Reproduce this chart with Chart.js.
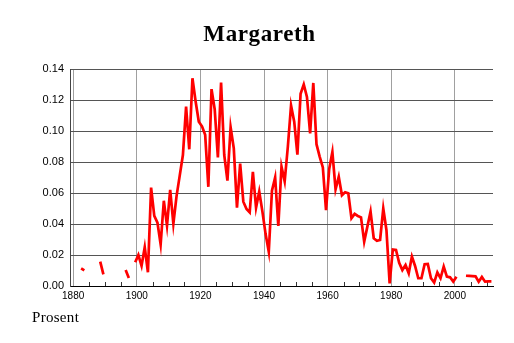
<!DOCTYPE html>
<html lang="no">
<head>
  <meta charset="UTF-8">
  <title>Margareth</title>
  <script src="https://cdn.jsdelivr.net/npm/chart.js"></script>
  <style>
    body { margin: 0; background: #fff; }
    #wrap { position: relative; width: 514px; height: 343px; overflow: hidden; }
    #nameChart { position: absolute; left: 0; top: 0; }
    h1 {
      position: absolute; left: 0; top: 22px; width: 514px; margin: 0;
      padding-left: 5px; box-sizing: border-box; text-align: center;
      font: bold 23px/23px "Liberation Serif", serif; letter-spacing: 0.6px; color: #000;
    }
    .unit { position: absolute; left: 32px; top: 310px; font: 15px/15px "Liberation Serif", serif; letter-spacing: 0.3px; }
  </style>
</head>
<body>
  <div id="wrap">
    <canvas id="nameChart" width="514" height="343"></canvas>
    <h1>Margareth</h1>
    <div class="unit">Prosent</div>
  </div>
  <script>
    // share of girls given the name, per year (null = no data that year)
    const firstYear = 1882;
    const percent = [
      0.0114, 0.0101, null, null, null, null, 0.0157, 0.0075,              // 1882-1889
      null, null, null, null, null, null, 0.0104, 0.0052, null, 0.0153,     // 1890-1899
      0.0200, 0.0130, 0.0250, 0.0089, 0.0635, 0.0452, 0.0408, 0.0268, 0.0550, 0.0390, // 1900-1909
      0.0620, 0.0402, 0.0580, 0.0712, 0.0845, 0.1157, 0.0882, 0.1340, 0.1190, 0.1060, // 1910-1919
      0.1030, 0.0975, 0.0640, 0.1270, 0.1140, 0.0830, 0.1312, 0.0845, 0.0680, 0.1024, // 1920-1929
      0.0888, 0.0505, 0.0790, 0.0544, 0.0497, 0.0475, 0.0737, 0.0505, 0.0610, 0.0480, // 1930-1939
      0.0335, 0.0221, 0.0615, 0.0700, 0.0387, 0.0770, 0.0675, 0.0900, 0.1165, 0.1060, // 1940-1949
      0.0848, 0.1240, 0.1300, 0.1220, 0.0985, 0.1310, 0.0915, 0.0835, 0.0765, 0.0490, // 1950-1959
      0.0755, 0.0865, 0.0624, 0.0705, 0.0585, 0.0604, 0.0598, 0.0437, 0.0465, 0.0452, // 1960-1969
      0.0443, 0.0286, 0.0383, 0.0480, 0.0308, 0.0292, 0.0297, 0.0500, 0.0360, 0.0017, // 1970-1979
      0.0235, 0.0232, 0.0150, 0.0103, 0.0135, 0.0082, 0.0190, 0.0129, 0.0050, 0.0050, // 1980-1989
      0.0140, 0.0142, 0.0050, 0.0022, 0.0088, 0.0050, 0.0125, 0.0060, 0.0056, 0.0028, // 1990-1999
      0.0060, null, null, 0.0066, 0.0065, 0.0064, 0.0062, 0.0028, 0.0058, 0.0028,     // 2000-2009
      0.0030, 0.0030                                                                  // 2010-2011
    ];
    const yearTicks = [1880, 1900, 1920, 1940, 1960, 1980, 2000];
    const percentTicks = [0, 0.02, 0.04, 0.06, 0.08, 0.10, 0.12, 0.14];

    // each yearly value is placed in the middle of its year
    const points = percent.map((v, i) => ({ x: firstYear + i + 0.5, y: v }));

    // short tick marks every five years, drawn up from the x axis
    const minorTicks = {
      id: 'minorTicks',
      beforeDatasetsDraw(chart) {
        const xs = chart.scales.x, area = chart.chartArea, ctx = chart.ctx;
        ctx.save();
        ctx.strokeStyle = '#333';
        ctx.lineWidth = 1;
        for (let yr = 1885; yr < 2012; yr += 5) {
          if (yr % 20 === 0) continue;
          const px = Math.round(xs.getPixelForValue(yr)) + 0.5;
          ctx.beginPath();
          ctx.moveTo(px, area.bottom);
          ctx.lineTo(px, area.bottom - 4);
          ctx.stroke();
        }
        ctx.restore();
      }
    };

    new Chart(document.getElementById('nameChart'), {
      type: 'line',
      data: {
        datasets: [{
          data: points,
          borderColor: '#ff0000',
          borderWidth: 2.7,
          pointRadius: 0,
          spanGaps: false,
          tension: 0
        }]
      },
      options: {
        responsive: false,
        animation: false,
        layout: { padding: { top: 69, right: 21, left: 0, bottom: 0 } },
        plugins: { legend: { display: false }, tooltip: { enabled: false } },
        scales: {
          x: {
            type: 'linear',
            min: 1879,
            max: 2012,
            afterBuildTicks: s => { s.ticks = yearTicks.map(v => ({ value: v })); },
            afterFit: s => { s.height = 57; },
            ticks: {
              color: '#000',
              padding: 4,
              maxRotation: 0,
              font: { family: '"Liberation Sans", Arial, sans-serif', size: 10 },
              callback: v => String(v)
            },
            grid: { color: '#a0a0a0', lineWidth: 1, drawTicks: false },
            border: { display: true, color: '#000', width: 1 }
          },
          y: {
            min: 0,
            max: 0.14,
            afterBuildTicks: s => { s.ticks = percentTicks.map(v => ({ value: v })); },
            afterFit: s => { s.width = 70; },
            ticks: {
              color: '#000',
              padding: 6,
              font: { family: '"Liberation Sans", Arial, sans-serif', size: 11 },
              callback: v => v.toFixed(2)
            },
            grid: { color: '#555', lineWidth: 1, drawTicks: false },
            border: { display: true, color: '#444', width: 1 }
          }
        }
      },
      plugins: [minorTicks]
    });
  </script>
</body>
</html>
